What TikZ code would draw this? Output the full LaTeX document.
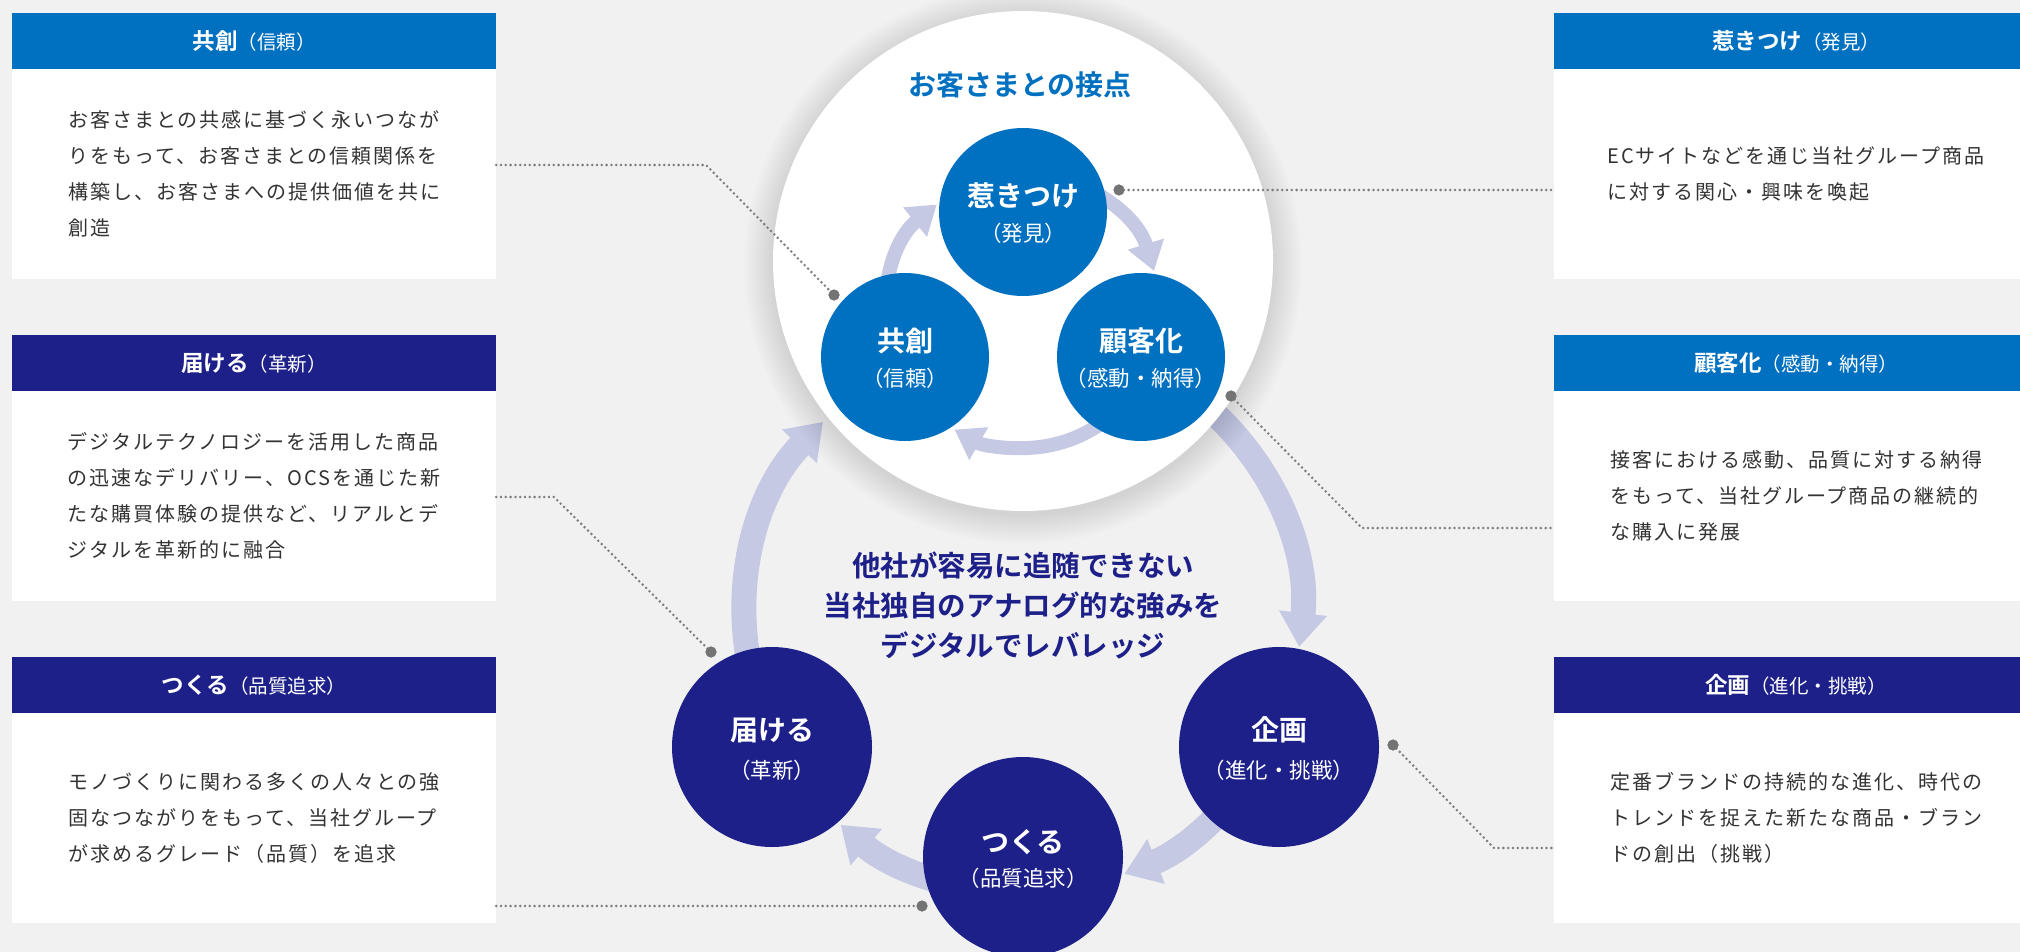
\documentclass[tikz,border=0pt]{standalone}
\usepackage{fontspec}
\setmainfont{Noto Sans CJK JP}[BoldFont={* Bold}]
\newfontfamily\bodyfont{Noto Sans CJK JP}[LetterSpace=10]
\usetikzlibrary{arrows.meta}
\definecolor{cblue}{HTML}{0070C0}
\definecolor{cnavy}{HTML}{1D2088}
\definecolor{lav}{HTML}{C5C9E4}
\definecolor{bg}{HTML}{F1F1F1}
\definecolor{txtgray}{HTML}{333333}
\definecolor{dotgray}{HTML}{7C7C7C}
\definecolor{dotdark}{HTML}{747474}
\newcommand{\hsub}[1]{{\mdseries\fontsize{19.5}{22}\selectfont #1}}
\begin{document}
\begin{tikzpicture}[x=1pt,y=-1pt,
  hdr/.style={minimum width=484pt, minimum height=56pt, inner sep=0pt, text=white, font=\bfseries\fontsize{22.5}{26}\selectfont},
  bodybox/.style={fill=white, minimum width=484pt, minimum height=210pt, inner sep=0pt, align=left, text=txtgray, font=\bodyfont\fontsize{20}{36}\selectfont},
  bigc/.style={circle, minimum size=200pt, inner sep=0pt, fill=cnavy},
  smc/.style={circle, minimum size=168pt, inner sep=0pt, fill=cblue},
  mainlbl/.style={text=white, inner sep=0pt, font=\bfseries\fontsize{28}{32}\selectfont},
  sublbl/.style={text=white, inner sep=0pt, font=\fontsize{21.5}{24}\selectfont},
  outarr/.style={draw=lav, line width=25pt, -{Triangle[width=46pt,length=34pt]}},
  inarr/.style={draw=lav, line width=14pt, -{Triangle[width=36pt,length=28pt]}},
  conn/.style={draw=dotgray, line width=2.8pt, dash pattern=on 0pt off 4.8pt, line cap=round},
  dotn/.style={circle, fill=dotdark, minimum size=11pt, inner sep=0pt}
]
\useasboundingbox (0,0) rectangle (2020,952);
\fill[bg] (0,0) rectangle (2020,952);
\clip (0,0) rectangle (2020,952);

% ring centres
\coordinate (oc) at (1023,615);
\coordinate (ic) at (1023,311);

% outer ring arrows
\draw[outarr] ([shift={(155:278)}]oc) arc[start angle=155, end angle=224, radius=278];
\draw[outarr] ([shift={(305:278)}]oc) arc[start angle=305, end angle=366.6, radius=278];
\draw[outarr] ([shift={(27:278)}]oc) arc[start angle=27, end angle=68.6, radius=278];
\draw[outarr] ([shift={(90:278)}]oc) arc[start angle=90, end angle=131, radius=278];

% white circle with soft shadow
\foreach \r in {251,253,...,279} \fill[black, opacity=0.008] (1023,265) circle[radius=\r];
\node[circle, fill=white, minimum size=500pt, inner sep=0pt] (wc) at (1023,261) {};
\node[text=cblue, inner sep=0pt, font=\bfseries\fontsize{28}{32}\selectfont] (title) at (1020,85) {お客さまとの接点};

% inner ring arrows
\draw[inarr] ([shift={(159:137)}]ic) arc[start angle=159, end angle=231, radius=137];
\draw[inarr] ([shift={(270:137)}]ic) arc[start angle=270, end angle=343, radius=137];
\draw[inarr] ([shift={(21:137)}]ic) arc[start angle=21, end angle=120, radius=137];

% inner circles
\node[smc] (hiki) at (1023,212) {};
\node[smc] (kyo) at (905,357) {};
\node[smc] (koki) at (1141,357) {};
\node[mainlbl] at ([yshift=16pt]hiki.center) {惹きつけ};
\node[sublbl] at ([yshift=-21pt]hiki.center) {（発見）};
\node[mainlbl] at ([yshift=16pt]kyo.center) {共創};
\node[sublbl] at ([yshift=-21pt]kyo.center) {（信頼）};
\node[mainlbl] at ([yshift=16pt]koki.center) {顧客化};
\node[sublbl] at ([yshift=-21pt]koki.center) {（感動・納得）};

% outer circles
\node[bigc] (todo) at (772,747) {};
\node[bigc] (kika) at (1279,747) {};
\node[bigc] (tsuku) at (1023,857) {};
\node[mainlbl] at ([yshift=17pt]todo.center) {届ける};
\node[sublbl] at ([yshift=-23pt]todo.center) {（革新）};
\node[mainlbl] at ([yshift=17pt]kika.center) {企画};
\node[sublbl] at ([yshift=-23pt]kika.center) {（進化・挑戦）};
\node[mainlbl] at ([yshift=15pt]tsuku.center) {つくる};
\node[sublbl] at ([yshift=-21pt]tsuku.center) {（品質追求）};

% centre message
\node[text=cnavy, align=center, inner sep=0pt, font=\bfseries\fontsize{28.5}{40}\selectfont] (msg) at (1023,605) {他社が容易に追随できない\\当社独自のアナログ的な強みを\\デジタルでレバレッジ};

% left boxes
\node[hdr, fill=cblue] (hL1) at (254,41) {共創\hsub{（信頼）}};
\node[bodybox] (bL1) at (254,174) {お客さまとの共感に基づく永いつなが\\りをもって、お客さまとの信頼関係を\\構築し、お客さまへの提供価値を共に\\創造};
\node[hdr, fill=cnavy] (hL2) at (254,363) {届ける\hsub{（革新）}};
\node[bodybox] (bL2) at (254,496) {デジタルテクノロジーを活用した商品\\の迅速なデリバリー、OCSを通じた新\\たな購買体験の提供など、リアルとデ\\ジタルを革新的に融合};
\node[hdr, fill=cnavy] (hL3) at (254,685) {つくる\hsub{（品質追求）}};
\node[bodybox] (bL3) at (254,818) {モノづくりに関わる多くの人々との強\\固なつながりをもって、当社グループ\\が求めるグレード（品質）を追求};

% right boxes
\node[hdr, fill=cblue] (hR1) at (1796,41) {惹きつけ\hsub{（発見）}};
\node[bodybox] (bR1) at (1796,174) {ECサイトなどを通じ当社グループ商品\\に対する関心・興味を喚起};
\node[hdr, fill=cblue] (hR2) at (1796,363) {顧客化\hsub{（感動・納得）}};
\node[bodybox] (bR2) at (1796,496) {接客における感動、品質に対する納得\\をもって、当社グループ商品の継続的\\な購入に発展};
\node[hdr, fill=cnavy] (hR3) at (1796,685) {企画\hsub{（進化・挑戦）}};
\node[bodybox] (bR3) at (1796,818) {定番ブランドの持続的な進化、時代の\\トレンドを捉えた新たな商品・ブラン\\ドの創出（挑戦）};

% connectors
\coordinate (k1) at (706,165);
\coordinate (k2) at (554,497);
\coordinate (k3) at (922,906);
\coordinate (k4) at (1119,190);
\coordinate (k5) at (1362,528);
\coordinate (k6) at (1494,848);
\node[dotn] (d1) at (834,295) {};
\node[dotn] (d2) at (711,652) {};
\node[dotn] (d3) at (922,906) {};
\node[dotn] (d4) at (1119,190) {};
\node[dotn] (d5) at (1231,396) {};
\node[dotn] (d6) at (1393,745) {};
\draw[conn] (bL1.east |- k1) -- (k1) -- (d1.center);
\draw[conn] (bL2.east |- k2) -- (k2) -- (d2.center);
\draw[conn] (bL3.east |- k3) -- (d3.center);
\draw[conn] (d4.center) -- (bR1.west |- k4);
\draw[conn] (d5.center) -- (k5) -- (bR2.west |- k5);
\draw[conn] (d6.center) -- (k6) -- (bR3.west |- k6);
\node[dotn] at (d1) {};
\node[dotn] at (d2) {};
\node[dotn] at (d3) {};
\node[dotn] at (d4) {};
\node[dotn] at (d5) {};
\node[dotn] at (d6) {};
\end{tikzpicture}
\end{document}
